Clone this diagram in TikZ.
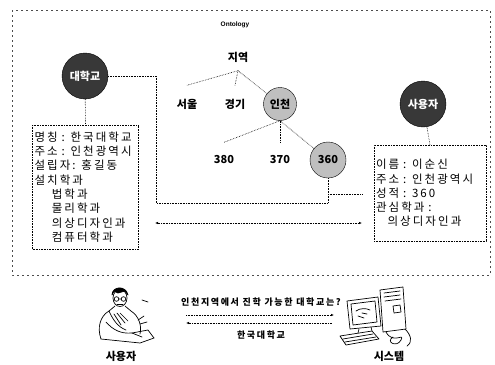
\documentclass[tikz,border=0pt]{standalone}
\usepackage{fontspec}
\setmainfont{Noto Sans CJK KR}
\newfontfamily\latinsans{Liberation Sans}
\newfontfamily\boxfamily{Noto Sans CJK KR}[LetterSpace=18]
\usetikzlibrary{arrows.meta}

\newcommand{\boxFont}{\boxfamily\fontsize{11.5}{14.3}\selectfont}
\newcommand{\treeFont}{\fontsize{11}{12}\selectfont\bfseries}
\newcommand{\msgFont}{\boxfamily\fontsize{9}{9}\selectfont\bfseries}

\begin{document}
\begin{tikzpicture}[x=1pt,y=-1pt,
   darkcirc/.style={circle,minimum size=46pt,inner sep=0pt,fill=black!78,draw=black,text=white,font=\treeFont},
   lightcirc/.style={circle,minimum size=33pt,inner sep=0pt,fill=black!25,draw=black,font=\treeFont},
   leaf/.style={font=\treeFont},
   infobox/.style={draw=black,densely dotted,line width=0.6pt,align=left,inner sep=2pt,font=\boxFont},
   conn/.style={densely dotted,black,line width=0.6pt},
   frame/.style={dash pattern=on 2pt off 3pt,black!70,line width=0.6pt},
   clip art/.style={line width=0.7pt,line join=round,line cap=round}]
   \useasboundingbox (0,0) rectangle (495,364);

   % ontology frame
   \draw[frame] (12,10) rectangle (490,275);
   \node[font=\latinsans\bfseries\fontsize{6.5}{7}\selectfont] (onto) at (235,25) {Ontology};

   % region tree
   \node[leaf] (region) at (238,57) {지역};
   \node[leaf] (seoul) at (187,104) {서울};
   \node[leaf] (gyeonggi) at (235,104) {경기};
   \node[lightcirc] (incheon) at (280,104) {인천};
   \node[leaf] (n380) at (224,160) {380};
   \node[leaf] (n370) at (280,160) {370};
   \node[lightcirc,minimum size=36pt] (n360) at (328,160) {360};

   \draw[conn] ([yshift=-5pt]region.south) -- ([yshift=10pt]seoul.north);
   \draw[conn] ([yshift=-5pt]region.south) -- ([yshift=10pt]gyeonggi.north);
   \draw[conn] ([yshift=-5pt]region.south) -- (incheon);
   \draw[conn] (incheon.south) -- ([yshift=10pt]n380.north);
   \draw[conn] (incheon.south) -- ([yshift=10pt]n370.north);
   \draw[conn] (incheon.south) -- (n360);

   % university and user
   \node[darkcirc] (univ) at (85,76) {대학교};
   \node[darkcirc] (user) at (423,104) {사용자};

   \node[infobox,minimum width=106pt,minimum height=124pt,text width=102pt] (univbox) at (85.5,187)
      {명칭 : 한국대학교\\
       주소 : 인천광역시\\
       설립자: 홍길동\\
       설치학과\\
       \hspace*{1.5em}법학과\\
       \hspace*{1.5em}물리학과\\
       \hspace*{1.5em}의상디자인과\\
       \hspace*{1.5em}컴퓨터학과};
   \node[infobox,minimum width=112pt,minimum height=96pt,text width=108pt] (userbox) at (430,193)
      {이름 : 이순신\\
       주소 : 인천광역시\\
       성적 : 360\\
       관심학과 :\\
       \hspace*{1em}의상디자인과};

   \draw[conn] (univ) -- (univbox.north);
   \draw[conn] (user) -- (userbox.north);

   % links between the two instances
   \coordinate (joint) at (328,203);
   \coordinate (score) at (328,194);
   \coordinate (scoreend) at (362,194);
   \coordinate (matchl) at (155,223);
   \coordinate (matchr) at (362,223);
   \draw[conn] (univ.east) -- ++(48,0) |- (joint) -- (n360.south);
   \draw[conn] (score) -- (scoreend);
   \draw[conn,{Latex[length=3pt,width=2.5pt]}-{Latex[length=3pt,width=2.5pt]}] (matchl) -- (matchr);

   % user at the desk
   \begin{scope}[clip art]
      \draw (120,298) ellipse (7 and 8.5);
      \draw[fill=black] (112,295) .. controls (112,286) and (126,285) .. (128,295)
            -- (125,291) -- (118,293) -- (114,291) -- cycle;
      \draw (116.5,299) circle (2.3) (123.5,299) circle (2.3) (118.8,299) -- (121.2,299);
      \draw (117,304) -- (123,304);
      \draw (115,306) -- (109,311) .. controls (100,316) and (97,328) .. (101,339);
      \draw (125,306) -- (131,311) .. controls (139,316) and (142,326) .. (140,334);
      \draw (109,311) .. controls (113,320) and (118,327) .. (126,330);
      \draw (106,322) .. controls (113,330) and (121,334) .. (132,333) -- (142,337);
      \draw (114,314) -- (121,325) (117,313) -- (125,323) (120,313) -- (128,321);
      \draw (101,339) -- (140,343) -- (154,338);
      \draw (132,333) -- (148,330) -- (154,338);
      \draw (138,320) -- (144,316) (140,324) -- (147,322) (142,300) -- (148,302);
   \end{scope}

   % system
   \begin{scope}[clip art]
      \draw (347,301) -- (378,297) -- (381,326) -- (350,329) -- cycle;
      \draw (351,304) -- (375,301) -- (377,322) -- (353,325) -- cycle;
      \draw (356,311) .. controls (360,308) and (366,308) .. (370,310);
      \draw (358,316) -- (364,318) (362,313) -- (367,314);
      \draw (359,329) -- (358,333) (371,327) -- (372,331);
      \draw (380,290) -- (403,287) -- (406,329) -- (383,332) -- cycle;
      \draw (384,293) -- (400,291) (384,297) -- (400,295) (385,301) -- (401,299);
      \draw (393,306) -- (400,305) -- (401,312) -- (394,313) -- cycle;
      \draw (340,336) -- (372,331) -- (379,339) -- (346,345) -- cycle;
      \draw (343,339) -- (373,334) (345,342) -- (376,337);
      \draw (386,332) .. controls (393,345) and (405,332) .. (401,340)
            .. controls (397,348) and (385,342) .. (393,337);
      \draw (405,329) .. controls (411,335) and (413,342) .. (407,346);
   \end{scope}

   % query exchange
   \node[font=\msgFont] (query) at (261,302) {인천지역에서 진학 가능한 대학교는?};
   \node[font=\msgFont] (answer) at (261,335) {한국대학교};
   \coordinate (qa) at (186,315);
   \coordinate (qb) at (334,315);
   \coordinate (aa) at (186,323);
   \coordinate (ab) at (332,323);
   \draw[conn,-{Latex[length=3pt,width=2.5pt]}] (qa) -- (qb);
   \draw[conn,{Latex[length=3pt,width=2.5pt]}-] (aa) -- (ab);

   \node[font=\treeFont] (userlbl) at (121,356) {사용자};
   \node[font=\treeFont] (syslbl) at (389,356) {시스템};
\end{tikzpicture}
\end{document}
